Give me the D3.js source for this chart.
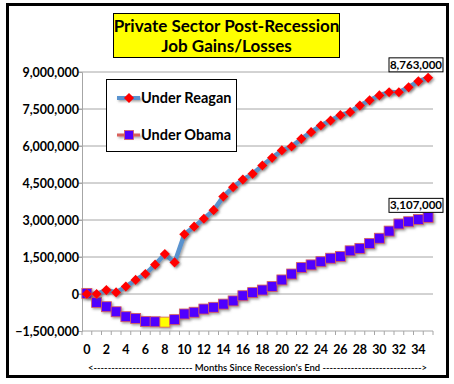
<!DOCTYPE html>
<html>
<head>
<meta charset="utf-8">
<script src="https://cdn.jsdelivr.net/npm/d3@7"></script>
<style>
  body { margin: 0; background: #fff; }
  svg text { font-family: Lato, "Open Sans", sans-serif; font-weight: 700; }
</style>
</head>
<body>
<div id="chart"></div>
<script>
const months = d3.range(0, 36);
const reagan = [0, 0, 160000, 65000, 300000, 570000, 810000, 1190000, 1620000, 1280000,
    2420000, 2730000, 3050000, 3400000, 3950000, 4330000, 4640000, 4870000, 5210000, 5520000,
    5820000, 5980000, 6290000, 6560000, 6830000, 7030000, 7250000, 7370000, 7640000, 7850000,
    8050000, 8180000, 8180000, 8380000, 8620000, 8763000];
const obama = [25000, -340000, -515000, -720000, -920000, -990000, -1110000, -1125000, -1140000, -1040000,
    -810000, -740000, -610000, -540000, -410000, -280000, -70000, 55000, 160000, 300000,
    570000, 810000, 1070000, 1180000, 1310000, 1450000, 1520000, 1750000, 1850000, 2050000,
    2260000, 2550000, 2840000, 2930000, 3020000, 3107000];
const yTicks = [-1500000, 0, 1500000, 3000000, 4500000, 6000000, 7500000, 9000000];
const xTickLabels = d3.range(0, 36, 2);
const titleLines = ['Private Sector Post-Recession', 'Job Gains/Losses'];

const width = 454;
const height = 384;

const x = d3.scaleBand()
    .domain(months)
    .range([82, 433]);
const cx = m => x(m) + x.bandwidth() / 2;

const y = d3.scaleLinear()
    .domain([-1500000, 9000000])
    .range([331, 72]);

const fmt = d3.format(',');

const svg = d3.select('#chart').append('svg')
    .attr('width', width).attr('height', height);

// shadow filter (user space so flat legend lines still render)
const defs = svg.append('defs');
const f = defs.append('filter').attr('id', 'shadow')
    .attr('filterUnits', 'userSpaceOnUse')
    .attr('x', 0).attr('y', 0).attr('width', width).attr('height', height);
f.append('feDropShadow')
    .attr('dx', 1.5).attr('dy', 1.5).attr('stdDeviation', 1)
    .attr('flood-color', '#555').attr('flood-opacity', 0.55);

// outer frame
svg.append('rect')
    .attr('x', 7.5).attr('y', 4.5).attr('width', 440).attr('height', 372)
    .attr('fill', '#fff').attr('stroke', '#000').attr('stroke-width', 3);

// grid lines
svg.append('g')
    .selectAll('line').data(yTicks.filter(d => d > -1500000)).enter().append('line')
    .attr('x1', 78).attr('x2', 433)
    .attr('y1', d => y(d)).attr('y2', d => y(d))
    .attr('stroke', '#a6a6a6').attr('stroke-width', 1);

// y axis
const yAxis = g => g
    .attr('transform', 'translate(82,0)')
    .call(d3.axisLeft(y).tickValues(yTicks).tickSize(4).tickFormat(fmt))
    .call(g => g.select('.domain').attr('stroke', '#a6a6a6'))
    .call(g => g.selectAll('.tick line').attr('stroke', '#a6a6a6'))
    .call(g => g.selectAll('text').attr('x', -3).attr('font-size', 12.5).attr('fill', '#000')
        .attr('font-family', 'Lato, sans-serif').attr('font-weight', 700));
svg.append('g').call(yAxis);

// x axis (at -1.5M)
const xAxisG = svg.append('g').attr('transform', `translate(0,${y(-1500000)})`);
xAxisG.append('line')
    .attr('x1', 82).attr('x2', 433)
    .attr('stroke', '#a6a6a6');
xAxisG.selectAll('.mtick').data(months.concat([36])).enter().append('line')
    .attr('class', 'mtick')
    .attr('x1', d => d < 36 ? x(d) : x(35) + x.bandwidth())
    .attr('x2', d => d < 36 ? x(d) : x(35) + x.bandwidth())
    .attr('y1', 0).attr('y2', 4)
    .attr('stroke', '#a6a6a6');
xAxisG.selectAll('.xlabel').data(xTickLabels).enter().append('text')
    .attr('x', d => cx(d)).attr('y', 23)
    .attr('text-anchor', 'middle').attr('font-size', 12.5)
    .text(d => d);

svg.append('text')
    .attr('x', 88).attr('y', 370.5)
    .attr('font-size', 10)
    .style('font-weight', 600)
    .attr('textLength', 339).attr('lengthAdjust', 'spacingAndGlyphs')
    .text('<---------------------------- Months Since Recession\'s End ---------------------------->');

// series lines
const line = d3.line().x((d, i) => cx(months[i])).y(d => y(d));

svg.append('path').datum(obama)
    .attr('d', line).attr('fill', 'none')
    .attr('stroke', '#d9605a').attr('stroke-width', 3)
    .attr('filter', 'url(#shadow)');
svg.append('path').datum(reagan)
    .attr('d', line).attr('fill', 'none')
    .attr('stroke', '#5a93cf').attr('stroke-width', 4.5)
    .attr('filter', 'url(#shadow)');

// markers
svg.append('g').attr('filter', 'url(#shadow)')
    .selectAll('rect').data(obama).enter().append('rect')
    .attr('x', (d, i) => cx(months[i]) - 5)
    .attr('y', d => y(d) - 5)
    .attr('width', 10).attr('height', 10)
    .attr('fill', (d, i) => months[i] === 8 ? '#ffff00' : '#5000ff')
    .attr('stroke', '#d9605a').attr('stroke-width', 0.8);

const diamond = d3.symbol().type(d3.symbolSquare).size(52);
svg.append('g').attr('filter', 'url(#shadow)')
    .selectAll('path').data(reagan).enter().append('path')
    .attr('d', diamond)
    .attr('transform', (d, i) => `translate(${cx(months[i])},${y(d)}) rotate(45)`)
    .attr('fill', '#ff0000');

// data labels
const labels = [
    {v: reagan[35], y0: y(reagan[35]) - 20},
    {v: obama[35], y0: y(obama[35]) - 19}
];
labels.forEach(l => {
    const g = svg.append('g');
    g.append('rect')
        .attr('x', 389).attr('y', l.y0).attr('width', 54).attr('height', 14)
        .attr('fill', '#fff').attr('stroke', '#000').attr('stroke-width', 1);
    g.append('text')
        .attr('x', 416).attr('y', l.y0 + 11)
        .attr('text-anchor', 'middle').attr('font-size', 11.5)
        .text(fmt(l.v));
});

// title box
svg.append('rect')
    .attr('x', 113.5).attr('y', 13.5).attr('width', 226).attr('height', 44)
    .attr('fill', '#ffff00').attr('stroke', '#000').attr('stroke-width', 1);
svg.append('g').selectAll('text').data(titleLines).enter().append('text')
    .attr('x', 226.5).attr('y', (d, i) => 32 + i * 20)
    .attr('text-anchor', 'middle').attr('font-size', 17)
    .text(d => d);

// legend
const legend = svg.append('g');
legend.append('rect')
    .attr('x', 106.5).attr('y', 79.5).attr('width', 130).attr('height', 72)
    .attr('fill', '#fff').attr('stroke', '#000').attr('stroke-width', 1);
const items = [
    {name: 'Under Reagan', color: '#5a93cf', y0: 98},
    {name: 'Under Obama', color: '#d9605a', y0: 135}
];
items.forEach((it, i) => {
    legend.append('line')
        .attr('x1', 117).attr('x2', 140).attr('y1', it.y0).attr('y2', it.y0)
        .attr('stroke', it.color).attr('stroke-width', i === 0 ? 4 : 3)
        .attr('filter', 'url(#shadow)');
    if (i === 0) {
        legend.append('path').attr('d', diamond)
            .attr('transform', `translate(129,${it.y0}) rotate(45)`)
            .attr('fill', '#ff0000');
    } else {
        legend.append('rect')
            .attr('x', 124.5).attr('y', it.y0 - 4.5).attr('width', 9).attr('height', 9)
            .attr('fill', '#5000ff').attr('stroke', '#d9605a').attr('stroke-width', 0.8);
    }
    legend.append('text')
        .attr('x', 141).attr('y', it.y0 + 5)
        .attr('font-size', 14.5)
        .text(it.name);
});
</script>
</body>
</html>
